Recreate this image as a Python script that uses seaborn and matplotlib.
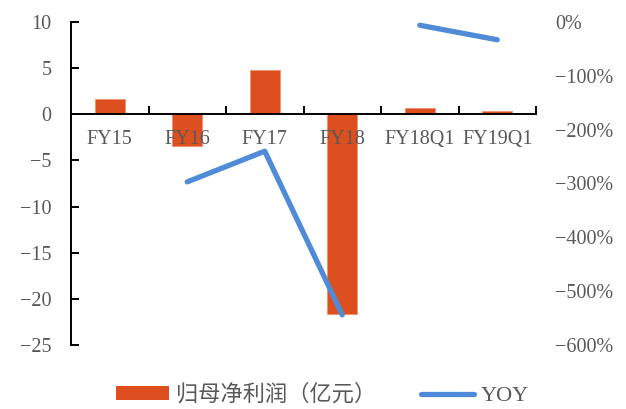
import matplotlib
matplotlib.use("Agg")
import matplotlib.pyplot as plt
import matplotlib.ticker as mticker
from matplotlib.patches import Patch
from matplotlib.lines import Line2D
import pandas as pd
import seaborn as sns

# Net profit attributable to parent (100M CNY) and its YoY change
categories = ["FY15", "FY16", "FY17", "FY18", "FY18Q1", "FY19Q1"]
net_profit = [1.7, -3.4, 4.8, -21.6, 0.65, 0.4]

yoy_categories = ["FY16", "FY17", "FY18", "FY18Q1", "FY19Q1"]
yoy_values = [-297, -240, -544, -6, -33]
yoy_segment = [1, 1, 1, 2, 2]

left_ticks = [10, 5, 0, -5, -10, -15, -20, -25]
right_ticks = [0, -100, -200, -300, -400, -500, -600]

bar_color = "#dd4f1f"
line_color = "#4f8bd8"
text_color = "#595959"

sns.set_theme(style="white")
plt.rcParams["font.family"] = ["Liberation Serif", "Noto Sans CJK SC"]
plt.rcParams["axes.unicode_minus"] = True

fig = plt.figure(figsize=(6.26, 4.09), dpi=100)
ax = fig.add_axes([71 / 626, 1 - 345 / 409, (536 - 71) / 626, (345 - 22) / 409])

bars = pd.DataFrame({"cat": categories, "val": net_profit})
sns.barplot(data=bars, x="cat", y="val", order=categories, color=bar_color,
            saturation=1, width=0.39, edgecolor="#f0906f", linewidth=0.6, ax=ax)

ax.set_axisbelow(False)
ax.set_xlim(-0.5, len(categories) - 0.5)
ax.set_ylim(-25, 10)
ax.set_yticks(left_ticks)
ax.yaxis.set_major_formatter(mticker.FuncFormatter(lambda v, p: f"{int(v)}".replace("-", "\u2212")))
ax.set_xlabel("")
ax.set_ylabel("")

for s in ["top", "right"]:
    ax.spines[s].set_visible(False)
ax.spines["left"].set_color("black")
ax.spines["left"].set_linewidth(1.4)
ax.spines["bottom"].set_position(("data", 0))
ax.spines["bottom"].set_color("black")
ax.spines["bottom"].set_linewidth(1.4)
for s in ax.spines.values():
    s.set_zorder(3)

ax.tick_params(axis="y", direction="in", length=6, width=1.4, color="black",
               labelsize=14.5, labelcolor=text_color, pad=14, left=True)
ax.set_xticks(range(len(categories)))
ax.set_xticklabels(categories)
ax.tick_params(axis="x", which="major", length=0, labelsize=14.5, labelcolor=text_color, pad=11)
ax.set_xticks([i + 0.5 for i in range(len(categories))], minor=True)
ax.tick_params(axis="x", which="minor", direction="in", length=6, width=1.4,
               color="black", bottom=True)

# YoY line on the secondary axis, drawn in two separate runs
ax2 = ax.twinx()
yoy = pd.DataFrame({
    "pos": [categories.index(c) for c in yoy_categories],
    "yoy": yoy_values,
    "seg": yoy_segment,
})
sns.lineplot(data=yoy, x="pos", y="yoy", units="seg", estimator=None,
             color=line_color, linewidth=3.8, solid_capstyle="round", ax=ax2)
ax2.set_ylim(-600, 0)
ax2.set_xlim(-0.5, len(categories) - 0.5)
ax2.set_yticks(right_ticks)
ax2.yaxis.set_major_formatter(mticker.FuncFormatter(lambda v, p: f"{int(v)}%".replace("-", "\u2212")))
ax2.tick_params(axis="y", length=0, labelsize=14.5, labelcolor=text_color, pad=14)
ax2.set_ylabel("")
ax2.set_xlabel("")
for s in ax2.spines.values():
    s.set_visible(False)

handles = [
    Patch(facecolor=bar_color, edgecolor="none"),
    Line2D([0], [0], color=line_color, linewidth=3.8, solid_capstyle="round"),
]
fig.legend(handles, ["归母净利润（亿元）", "YOY"], loc="center", bbox_to_anchor=(0.515, 0.034),
           ncol=2, frameon=False, fontsize=16, handlelength=2.4, handleheight=0.55,
           handletextpad=0.3, columnspacing=2.0, labelcolor=text_color)

fig.savefig("out.png", dpi=100)
